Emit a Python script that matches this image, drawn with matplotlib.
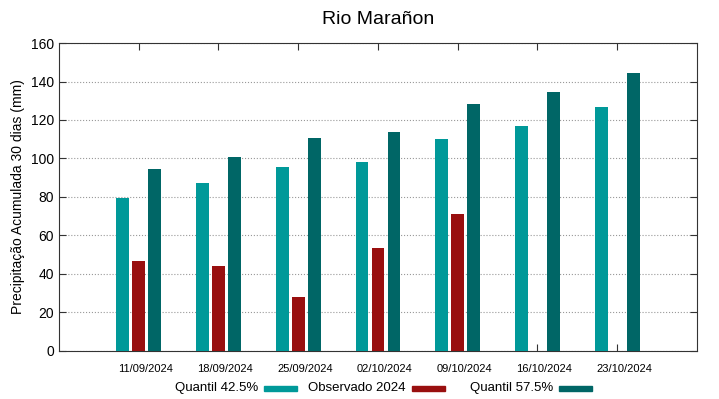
import numpy as np
import matplotlib.pyplot as plt
from matplotlib.patches import Rectangle

plt.rcParams['font.family'] = ['Liberation Sans', 'DejaVu Sans']

datas = ['11/09/2024', '18/09/2024', '25/09/2024', '02/10/2024', '09/10/2024', '16/10/2024', '23/10/2024']
q425 = [79.5, 87.0, 95.5, 98.3, 110.3, 116.9, 126.9]
obs2024 = [46.7, 44.1, 28.0, 53.3, 71.0]
q575 = [94.5, 100.7, 110.8, 114.0, 128.1, 134.4, 144.3]
series_names = ['Quantil 42.5%', 'Observado 2024', 'Quantil 57.5%']

c_q425 = '#009999'
c_obs = '#990f0f'
c_q575 = '#006666'

W, H = 719, 399
fig = plt.figure(figsize=(W / 100, H / 100), dpi=100)
ax = fig.add_axes([0.082, 0.121, 0.8874, 0.771])

x = np.arange(1, len(datas) + 1)
w = 0.16
ax.bar(x - 0.2, q425, w, color=c_q425, zorder=3)
ax.bar(x[:len(obs2024)], obs2024, w, color=c_obs, zorder=3)
ax.bar(x + 0.2, q575, w, color=c_q575, zorder=3)

ax.set_xlim(0, 8)
ax.set_ylim(0, 160)
# tick marks on the dates, labels drawn a little to the right (like gnuplot)
ax.set_xticks(x)
ax.set_xticklabels([])
ax.set_xticks(x + 0.085, minor=True)
ax.set_xticklabels(datas, minor=True, fontsize=8)
ax.tick_params(axis='x', which='minor', length=0, pad=9.5)
ax.set_yticks(np.arange(0, 161, 20))
ax.tick_params(axis='y', labelsize=10)
ax.tick_params(which='major', direction='in', top=True, right=True, length=5, color='#333333')
ax.grid(axis='y', linestyle=':', color='#999999', linewidth=0.8, zorder=0)
for s in ax.spines.values():
    s.set_color('#333333')
ax.set_ylabel('Precipitação Acumulada 30 dias (mm)', fontsize=10)
ax.set_title('Rio Marañon', fontsize=14, pad=14)

# legend, gnuplot style: text then colour sample
leg_x = [264, 412, 559]
for xs, name, col in zip(leg_x, series_names, [c_q425, c_obs, c_q575]):
    fig.text((xs - 6) / W, 1 - 388 / H, name, ha='right', va='center', fontsize=9.5)
    fig.add_artist(Rectangle((xs / W, 1 - 391 / H), 33 / W, 5 / H,
                             transform=fig.transFigure, color=col))

plt.savefig('out.png')
